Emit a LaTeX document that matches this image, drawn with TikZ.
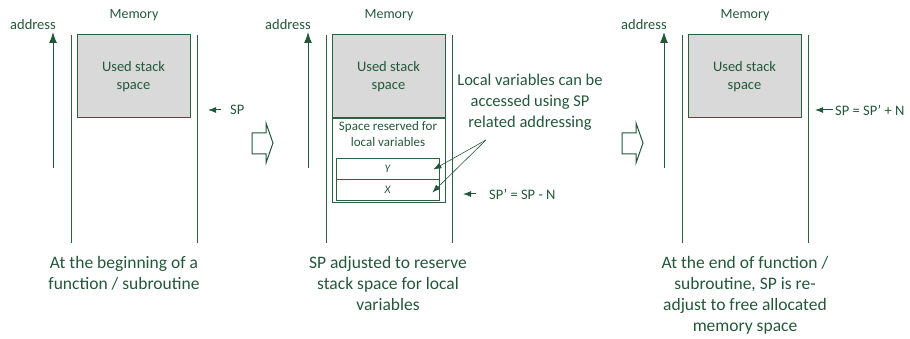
\documentclass[tikz,border=0pt]{standalone}
\usepackage{fontspec}
\setmainfont{Carlito}
\usetikzlibrary{arrows.meta,positioning}
\definecolor{ink}{HTML}{24573A}
\definecolor{wall}{HTML}{2F5F3F}
\definecolor{used}{HTML}{D9D9D9}
\tikzset{>={Latex[length=8pt,width=6pt]},line width=.8pt,
  every node/.style={text=ink,inner sep=0pt},
  membar/.style={draw=wall,line width=1pt},
  usedbox/.style={draw=wall,fill=used,line width=1pt,minimum width=113pt,minimum height=83pt,
    align=center,font=\fontsize{14.5}{18}\selectfont},
  framebox/.style={draw=wall,line width=1pt,minimum width=113pt,minimum height=84pt},
  varbox/.style={draw=wall,line width=.8pt,minimum width=103pt,minimum height=21pt,
    font=\fontsize{11.5}{12}\selectfont\itshape},
  ptr/.style={->,draw=ink,line width=1pt},
  thinptr/.style={->,draw=ink,line width=.6pt},
  hollow/.style={draw=ink,line width=1pt,fill=white},
  small/.style={font=\fontsize{14.5}{16}\selectfont},
  note/.style={font=\fontsize{13}{15.5}\selectfont,align=center},
  caption/.style={font=\fontsize{17.5}{21}\selectfont,align=center,anchor=north}}
\begin{document}
\begin{tikzpicture}[x=1pt,y=-1pt]
\useasboundingbox (0,0) rectangle (910,339);
% the three memory columns
\foreach \i/\dx in {1/0,2/255,3/611} {
\begin{scope}[shift={(\dx,0)}]
\draw[membar] (71,35)--(71,243) (197,35)--(197,243);
\node[font=\fontsize{14}{16}\selectfont] (mem\i) at (134,15) {Memory};
\node[small] (addr\i) at (33,25) {address};
\coordinate (abot\i) at (53,168); \coordinate (atop\i) at (53,32);
\draw[ptr,-{Latex[length=11pt,width=8pt]}] (abot\i)--(atop\i);
\node[usedbox] (used\i) at (133.5,76.5) {Used stack\\space};
\end{scope}}
% hollow step arrows
\foreach \dx in {0,370} {
\draw[hollow,shift={(\dx,0)}] (252,133)--(266,133)--(266,123)--(273,143)--(266,163)--(266,154)--(252,154)--cycle;}
% reserved space for locals
\node[framebox,anchor=north] (resv) at (used2.south) {};
\node[note] (resvtext) at (388,134) {Space reserved for\\local variables};
\node[varbox] (varY) at (387.5,168.5) {Y};
\node[varbox] (varX) at (387.5,189.5) {X};
\node[font=\fontsize{16.5}{21}\selectfont,align=center] (lvtext) at (530,102)
  {Local variables can be\\accessed using SP\\related addressing};
\coordinate (lvfoot) at (486,140);
\draw[thinptr] (lvfoot)--([xshift=-6pt,yshift=-1pt]varY.east);
\draw[thinptr] (lvfoot)--([xshift=-7pt,yshift=-3pt]varX.east);
% stack pointers
\node[small,anchor=west] (sp1) at (230,110) {SP};
\coordinate (sp1tip) at (208,110);
\draw[ptr] ([xshift=-9pt]sp1.west)--(sp1tip);
\node[small,anchor=west] (sp2) at (489,194) {SP’ = SP - N};
\coordinate (sp2tip) at (463,194);
\draw[ptr] ([xshift=-13pt]sp2.west)--(sp2tip);
\node[small,anchor=west] (sp3) at (835,110) {SP = SP’ + N};
\coordinate (sp3tip) at (815,110);
\draw[ptr] ([xshift=-2pt]sp3.west)--(sp3tip);
% captions
\node[caption] (cap1) at (124,256) {At the beginning of a\\function / subroutine};
\node[caption] (cap2) at (388,256) {SP adjusted to reserve\\stack space for local\\variables};
\node[caption] (cap3) at (745,256) {At the end of function /\\subroutine, SP is re-\\adjust to free allocated\\memory space};
\end{tikzpicture}
\end{document}
